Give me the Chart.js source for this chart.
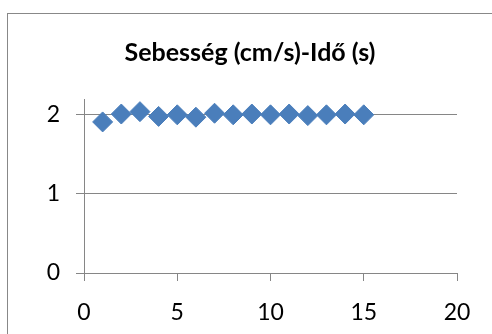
<!DOCTYPE html>
<html>
<head>
<meta charset="utf-8">
<script src="https://cdn.jsdelivr.net/npm/chart.js@4/dist/chart.umd.min.js"></script>
<style>
  html, body { margin: 0; padding: 0; background: #fff; overflow: hidden; }
  #box { position: absolute; left: 7px; top: 13px; width: 500px; height: 340px;
         border: 1px solid #888; background: #fff; }
</style>
</head>
<body>
<div id="box"><canvas id="chart" width="500" height="340"></canvas></div>
<script>
// sebesség mérés (cm/s) minden másodpercben
const timeS = [1, 2, 3, 4, 5, 6, 7, 8, 9, 10, 11, 12, 13, 14, 15];
const speed = [1.91, 2.01, 2.04, 1.98, 2.0, 1.97, 2.02, 2.0, 2.01, 2.0, 2.01, 1.99, 2.0, 2.01, 2.0];
const xTicks = [0, 5, 10, 15, 20];
const yTicks = [0, 1, 2];
const chartTitle = 'Sebesség (cm/s)-Idő (s)';

const gray = '#868686';
const font = 'Lato';

new Chart(document.getElementById('chart'), {
  type: 'scatter',
  data: {
    datasets: [{
      label: 'Sebesség',
      data: timeS.map((t, i) => ({ x: t, y: speed[i] })),
      pointStyle: 'rectRot',
      pointRadius: 10,
      pointHoverRadius: 10,
      backgroundColor: '#4a7ebb',
      borderColor: '#4a7ebb',
      borderWidth: 1
    }]
  },
  options: {
    responsive: false,
    animation: false,
    // left padding shifts the title centre to match the original
    layout: { padding: { left: 35, right: 51, top: 0, bottom: 0 } },
    plugins: {
      legend: { display: false },
      tooltip: { enabled: false },
      title: {
        display: true,
        text: chartTitle,
        color: '#000',
        font: { family: font, size: 25, weight: 'bold' },
        padding: { top: 24, bottom: 31 }
      }
    },
    scales: {
      x: {
        type: 'linear',
        min: 0, max: 20,
        afterBuildTicks: s => { s.ticks = xTicks.map(v => ({ value: v })); },
        afterFit: s => { s.height = 81; },
        border: { color: gray, width: 1 },
        grid: { drawOnChartArea: false, color: gray, tickLength: 8 },
        ticks: { color: '#000', font: { family: font, size: 23 }, padding: 18, maxRotation: 0 }
      },
      y: {
        min: 0, max: 2.2,
        afterBuildTicks: s => { s.ticks = yTicks.map(v => ({ value: v })); },
        afterFit: s => { s.width = 41; },
        border: { color: gray, width: 1 },
        grid: { color: gray, tickLength: 8 },
        ticks: { color: '#000', font: { family: font, size: 23 }, padding: 16 }
      }
    }
  }
});
</script>
</body>
</html>
